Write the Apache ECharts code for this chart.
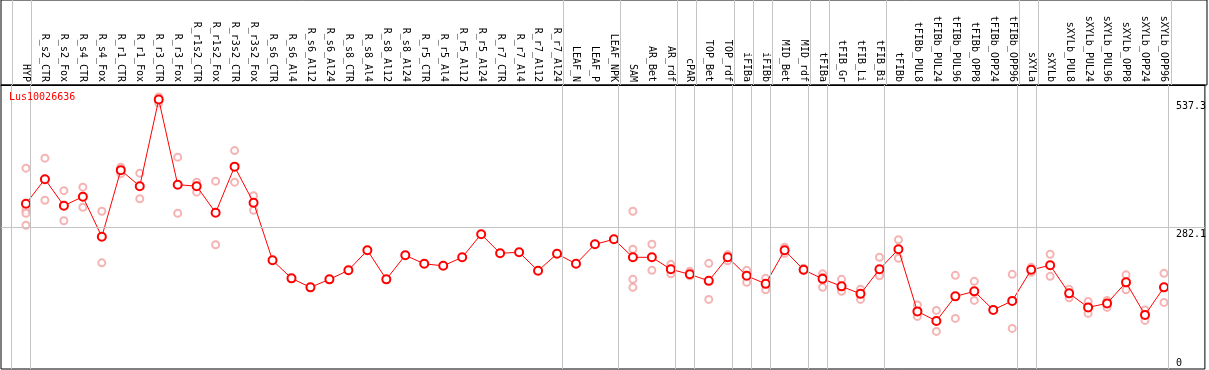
<!DOCTYPE html>
<html>
<head>
<meta charset="utf-8">
<script src="https://cdn.jsdelivr.net/npm/echarts@6/dist/echarts.min.js"></script>
<style>
html,body{margin:0;padding:0;background:#fff;}
#c{width:1209px;height:370px;}
</style>
</head>
<body>
<div id="c"></div>
<script>
const geneName = 'Lus10026636';
const categories = ['HYP','R_s2_CTR','R_s2_Fox','R_s4_CTR','R_s4_Fox','R_r1_CTR','R_r1_Fox','R_r3_CTR','R_r3_Fox','R_r1s2_CTR','R_r1s2_Fox','R_r3s2_CTR','R_r3s2_Fox','R_s6_CTR','R_s6_Al4','R_s6_Al12','R_s6_Al24','R_s8_CTR','R_s8_Al4','R_s8_Al12','R_s8_Al24','R_r5_CTR','R_r5_Al4','R_r5_Al12','R_r5_Al24','R_r7_CTR','R_r7_Al4','R_r7_Al12','R_r7_Al24','LEAF_N','LEAF_P','LEAF_NPK','SAM','AR_Bet','AR_rdf','cPAR','TOP_Bet','TOP_rdf','iFIBa','iFIBb','MID_Bet','MID_rdf','tFIBa','tFIB_Gr','tFIB_Li','tFIB_Bi','tFIBb','tFIBb_PUL8','tFIBb_PUL24','tFIBb_PUL96','tFIBb_OPP8','tFIBb_OPP24','tFIBb_OPP96','sXYLa','sXYLb','sXYLb_PUL8','sXYLb_PUL24','sXYLb_PUL96','sXYLb_OPP8','sXYLb_OPP24','sXYLb_OPP96'];
const meanValues = [330,379,326,344,264,397,365,538,368,365,312,404,332,217,181,163,179,197,237,179,227,210,206,223,269,231,233,196,230,210,249,259,223,223,199,189,176,223,186,170,237,198,180,165,150,199,239,115,96,145,155,118,136,198,207,151,123,131,173,108,163];
const replicateValues = [
  [401,317,311,287],[421,337],[356,296],[363,323],[315,212],[403,390],[391,340],[543,531],[423,311],[373,353],[375,248],[436,373],[346,317],
  [],[],[],[],[],[],[],[],[],[],[],[],[],[],[],[],[],[],[],
  [315,239,179,163],[249,197],[209,190],[195,186],[211,139],[228,216],[197,173],[181,158],[243,231],[201,196],[190,183,163],[179,155],[159,139],[223,189,186],[258,221],
  [128,105],[117,75],[187,101],[175,137],[],[189,81],[203,193],[229,185],[159,142],[135,111],[137,123],[188,158],[118,97],[191,133]
];
// index of last category in each group (-1 = leading edge)
const groupEnds = [-1,0,28,31,34,35,37,38,39,41,42,45,52,53,60];
const yTickLabelsUpper = [282.1, 537.3];
const yTickLabelsLower = [0];
const refLineValue = 282.1;

const chart = echarts.init(document.getElementById('c'), null, {renderer:'canvas'});
const font = 'DejaVu Sans Mono';
const meanData = meanValues.map((v,i)=>[i,v]);
const repData = [];
replicateValues.forEach((arr,i)=>arr.forEach(v=>repData.push([i,v])));
const idx = categories.map((c,i)=>i);
const xMin = -25/19, xMax = 60 + 41/19;
const yMax = 567;
const vLines = groupEnds.map(g=>({xAxis:g+0.25}));
const gridLineStyle = {color:'#c4c4c4',width:1,type:'solid'};

const option = {
  animation:false,
  backgroundColor:'#fff',
  title:{text:geneName,left:4,top:87,textStyle:{color:'#ff0000',fontSize:10,fontFamily:font,fontWeight:'normal'}},
  grid:[
    {left:1,right:2,top:85,bottom:1,show:true,borderColor:'#000',borderWidth:1,backgroundColor:'transparent'},
    {left:1,right:2,top:0,height:85,show:true,borderColor:'#000',borderWidth:1,backgroundColor:'transparent'}
  ],
  xAxis:[{
    gridIndex:0,type:'value',position:'top',min:xMin,max:xMax,
    axisLine:{show:true,onZero:false,lineStyle:{color:'#000',width:1}},
    axisTick:{show:false},splitLine:{show:false},
    axisLabel:{customValues:idx,formatter:v=>categories[Math.round(v)],rotate:90,margin:3,
      color:'#000',fontSize:10,fontFamily:font,hideOverlap:false,showMinLabel:true,showMaxLabel:true}
  },{
    gridIndex:1,type:'value',min:xMin,max:xMax,show:false
  }],
  yAxis:[{
    gridIndex:0,type:'value',position:'right',min:0,max:yMax,
    axisLine:{show:false},axisTick:{show:false},splitLine:{show:false},
    axisLabel:{customValues:yTickLabelsUpper,inside:true,margin:29,align:'left',verticalAlign:'top',
      formatter:v=>String(v),color:'#000',fontSize:10,fontFamily:font,padding:[2,0,0,0]}
  },{
    gridIndex:0,type:'value',position:'right',min:0,max:yMax,
    axisLine:{show:false},axisTick:{show:false},splitLine:{show:false},
    axisLabel:{customValues:yTickLabelsLower,inside:true,margin:29,align:'left',verticalAlign:'bottom',
      formatter:v=>String(v),color:'#000',fontSize:10,fontFamily:font,padding:[0,0,1,0]}
  },{
    gridIndex:1,type:'value',min:0,max:1,show:false
  }],
  series:[{
    type:'scatter',name:'replicates',xAxisIndex:0,yAxisIndex:0,data:repData,z:2,
    symbol:'emptyCircle',symbolSize:7,
    itemStyle:{color:'#f2a0a0',borderColor:'#f2a0a0',borderWidth:1.1},
    silent:true,
    markLine:{silent:true,symbol:'none',animation:false,label:{show:false},
      lineStyle:gridLineStyle,
      data:[...vLines,{yAxis:refLineValue}]}
  },{
    type:'line',name:geneName,xAxisIndex:0,yAxisIndex:0,data:meanData,z:3,
    symbol:'emptyCircle',symbolSize:8,
    lineStyle:{color:'#ff0000',width:1},
    itemStyle:{color:'#ff0000',borderColor:'#e00000',borderWidth:1.3},
    silent:true
  },{
    type:'line',name:'header',xAxisIndex:1,yAxisIndex:2,data:[],silent:true,
    markLine:{silent:true,symbol:'none',animation:false,label:{show:false},
      lineStyle:gridLineStyle,data:vLines}
  }]
};
chart.setOption(option);
</script>
</body>
</html>
